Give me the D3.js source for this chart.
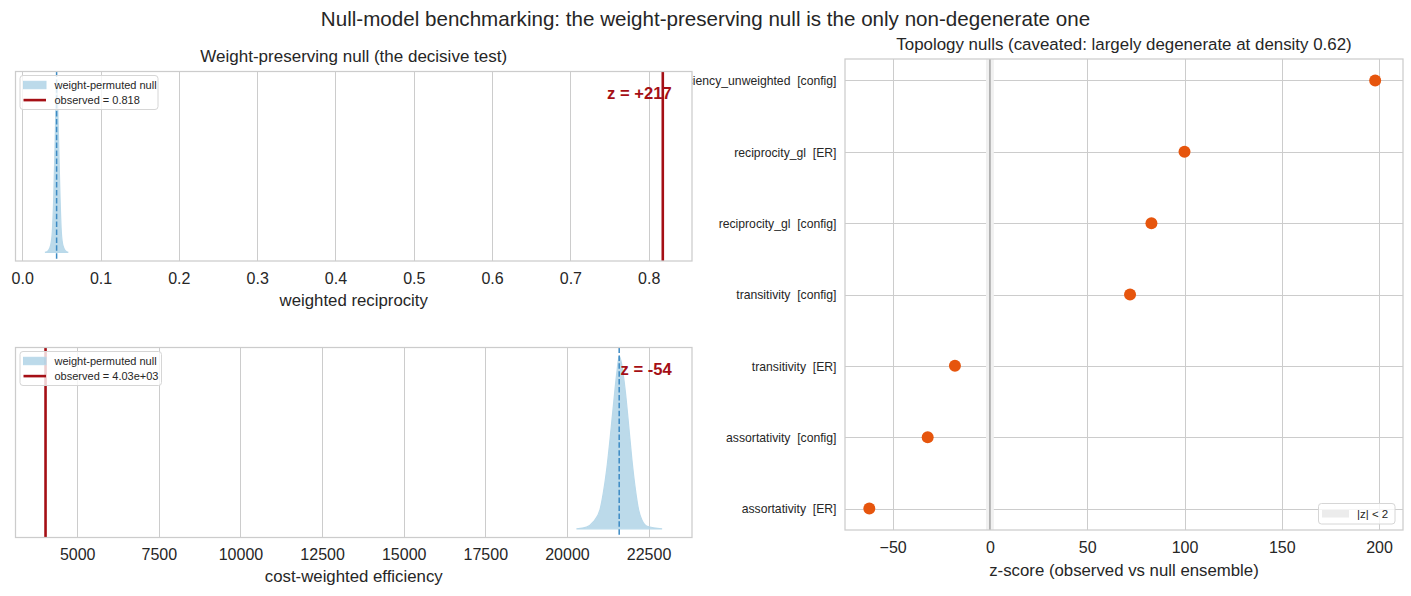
<!DOCTYPE html>
<html>
<head>
<meta charset="utf-8">
<script src="https://cdn.jsdelivr.net/npm/d3@7"></script>
<style>
  body { margin: 0; background: #fff; }
  svg text { font-family: "Liberation Sans", Arial, sans-serif; fill: #262626; white-space: pre; }
</style>
</head>
<body>
<div id="chart"></div>
<script>
// weighted reciprocity: null ensemble KDE (relative density) + observed value
const recipX = [0.0290, 0.0333, 0.0362, 0.0384, 0.0401, 0.0418, 0.0430, 0.0439, 0.0452, 0.0464, 0.0482, 0.0499, 0.0520, 0.0550, 0.0588];
const recipDensity = [0, 0.01, 0.04, 0.12, 0.30, 0.60, 0.85, 1.0, 0.88, 0.65, 0.33, 0.12, 0.04, 0.01, 0];
const recipNullMean = 0.0439;
const recipObserved = 0.818;
const recipZ = "z = +217";
const recipTicks = [0.0, 0.1, 0.2, 0.3, 0.4, 0.5, 0.6, 0.7, 0.8];

// cost-weighted efficiency
const effX = [20290, 20600, 20805, 21010, 21115, 21215, 21320, 21420, 21525, 21600, 21680, 21785, 21885, 21990, 22095, 22195, 22300, 22455, 22915];
const effDensity = [0, 0.01, 0.04, 0.11, 0.21, 0.34, 0.52, 0.71, 0.90, 1.0, 0.95, 0.80, 0.61, 0.40, 0.23, 0.11, 0.05, 0.015, 0];
const effNullMean = 21600;
const effObserved = 4030;
const effZ = "z = -54";
const effTicks = [5000, 7500, 10000, 12500, 15000, 17500, 20000, 22500];

// topology nulls
const topoLabels = [
  "efficiency_unweighted  [config]",
  "reciprocity_gl  [ER]",
  "reciprocity_gl  [config]",
  "transitivity  [config]",
  "transitivity  [ER]",
  "assortativity  [config]",
  "assortativity  [ER]"
];
const topoZScores = [198, 100, 83, 72, -18, -32, -62];
const topoTicks = [-50, 0, 50, 100, 150, 200];

const W = 1411, H = 596;
const grid = "#cccccc", red = "#a50f15", blue = "#3d8bc4", kdeFill = "#a6cee3", orange = "#e6550d";

const svg = d3.select("#chart").append("svg")
  .attr("width", W).attr("height", H);

svg.append("text")
  .attr("x", W / 2).attr("y", 19).attr("dy", "0.35em")
  .attr("text-anchor", "middle").style("font-size", "20.6px")
  .text("Null-model benchmarking: the weight-preserving null is the only non-degenerate one");

// ---------- right panel (drawn first so the left panels cover its overflowing label) ----------
const R = { left: 845, right: 1403, top: 59, bottom: 530 };
const xR = d3.scaleLinear().domain([-74.5, 212.3]).range([R.left, R.right]);
const yR = d3.scalePoint().domain(topoLabels).range([R.top, R.bottom]).padding(0.3);
const gR = svg.append("g");

gR.selectAll(".vgrid").data(topoTicks).join("line")
  .attr("x1", d => Math.round(xR(d)) + 0.5).attr("x2", d => Math.round(xR(d)) + 0.5)
  .attr("y1", R.top).attr("y2", R.bottom)
  .attr("stroke", grid).attr("stroke-width", 1);
gR.selectAll(".hgrid").data(topoLabels).join("line")
  .attr("x1", R.left).attr("x2", R.right)
  .attr("y1", d => Math.round(yR(d)) + 0.5).attr("y2", d => Math.round(yR(d)) + 0.5)
  .attr("stroke", grid).attr("stroke-width", 1);

// |z| < 2 band and zero line
gR.append("rect")
  .attr("x", xR(-2)).attr("width", xR(2) - xR(-2))
  .attr("y", R.top).attr("height", R.bottom - R.top)
  .attr("fill", "#f0f0f0");
gR.append("line")
  .attr("x1", xR(0)).attr("x2", xR(0)).attr("y1", R.top).attr("y2", R.bottom)
  .attr("stroke", "#8f8f8f").attr("stroke-width", 1.2);

gR.selectAll("circle").data(topoLabels).join("circle")
  .attr("cx", (d, i) => xR(topoZScores[i]))
  .attr("cy", d => yR(d))
  .attr("r", 6)
  .attr("fill", orange);

gR.append("rect")
  .attr("x", R.left).attr("y", R.top)
  .attr("width", R.right - R.left).attr("height", R.bottom - R.top)
  .attr("fill", "none").attr("stroke", grid).attr("stroke-width", 1.25);

const axR = gR.append("g").attr("transform", `translate(0,${R.bottom})`)
  .call(d3.axisBottom(xR).tickValues(topoTicks).tickSize(0).tickFormat(d3.format("d")));
axR.select(".domain").remove();
axR.selectAll("text").attr("y", 17.5).attr("dy", "0.35em").style("font-size", "16px").attr("fill", "#262626");

const ayR = gR.append("g").attr("transform", `translate(${R.left},0)`)
  .call(d3.axisLeft(yR).tickSize(0));
ayR.select(".domain").remove();
ayR.selectAll("text").attr("x", -8.5).attr("dy", "0.35em").style("font-size", "12.2px").attr("fill", "#262626");

gR.append("text")
  .attr("x", (R.left + R.right) / 2).attr("y", 44).attr("dy", "0.35em")
  .attr("text-anchor", "middle").style("font-size", "16.9px")
  .text("Topology nulls (caveated: largely degenerate at density 0.62)");
gR.append("text")
  .attr("x", (R.left + R.right) / 2).attr("y", 570).attr("dy", "0.35em")
  .attr("text-anchor", "middle").style("font-size", "16.8px")
  .text("z-score (observed vs null ensemble)");

// legend
const lgR = gR.append("g");
lgR.append("rect").attr("x", 1318.5).attr("y", 503.5).attr("width", 76.5).attr("height", 20.5)
  .attr("rx", 3).attr("fill", "#fff").attr("fill-opacity", 0.8).attr("stroke", "#d6d6d6");
lgR.append("rect").attr("x", 1322).attr("y", 510).attr("width", 27).attr("height", 7.5).attr("fill", "#ececec");
lgR.append("text").attr("x", 1357).attr("y", 513.5).attr("dy", "0.35em").style("font-size", "11.5px").text("|z| < 2");

// ---------- left panels ----------
function kdePanel(cfg) {
  const P = cfg.box;
  const x = d3.scaleLinear().domain(cfg.domain).range([P.left, P.right]);
  const y = d3.scaleLinear().domain([-0.05, 1.05]).range([P.bottom, P.top]);
  const g = svg.append("g");

  g.append("rect").attr("x", P.left).attr("y", P.top)
    .attr("width", P.right - P.left).attr("height", P.bottom - P.top).attr("fill", "#fff");

  g.selectAll(".vgrid").data(cfg.ticks).join("line")
    .attr("x1", d => Math.round(x(d)) + 0.5).attr("x2", d => Math.round(x(d)) + 0.5)
    .attr("y1", P.top).attr("y2", P.bottom)
    .attr("stroke", grid).attr("stroke-width", 1);

  const pts = cfg.xs.map((v, i) => [v, cfg.dens[i]]);
  g.append("path").datum(pts)
    .attr("d", d3.area().x(d => x(d[0])).y0(y(0)).y1(d => y(d[1])).curve(d3.curveMonotoneX))
    .attr("fill", kdeFill).attr("fill-opacity", 0.75)
    .attr("stroke", "#b9d9ea").attr("stroke-width", 1.2);

  g.append("line")
    .attr("x1", x(cfg.mean)).attr("x2", x(cfg.mean)).attr("y1", P.top).attr("y2", P.bottom)
    .attr("stroke", blue).attr("stroke-width", 1.5).attr("stroke-dasharray", "5.5,2.4");

  g.append("line")
    .attr("x1", x(cfg.observed)).attr("x2", x(cfg.observed)).attr("y1", P.top).attr("y2", P.bottom)
    .attr("stroke", red).attr("stroke-width", 2.6);

  g.append("rect").attr("x", P.left).attr("y", P.top)
    .attr("width", P.right - P.left).attr("height", P.bottom - P.top)
    .attr("fill", "none").attr("stroke", grid).attr("stroke-width", 1.25);

  const ax = g.append("g").attr("transform", `translate(0,${P.bottom})`)
    .call(d3.axisBottom(x).tickValues(cfg.ticks).tickSize(0).tickFormat(cfg.fmt));
  ax.select(".domain").remove();
  ax.selectAll("text").attr("y", 17.3).attr("dy", "0.35em").style("font-size", "16px").attr("fill", "#262626");

  g.append("text")
    .attr("x", (P.left + P.right) / 2).attr("y", P.bottom + 39).attr("dy", "0.35em")
    .attr("text-anchor", "middle").style("font-size", "16.8px").text(cfg.xlabel);

  if (cfg.title) {
    g.append("text")
      .attr("x", (P.left + P.right) / 2).attr("y", P.top - 15.5).attr("dy", "0.35em")
      .attr("text-anchor", "middle").style("font-size", "17px").text(cfg.title);
  }

  // legend
  const lx = P.left + 4.5, ly = P.top + 4;
  const lg = g.append("g");
  lg.append("rect").attr("x", lx).attr("y", ly).attr("width", cfg.legendW).attr("height", 34)
    .attr("rx", 3).attr("fill", "#fff").attr("fill-opacity", 0.8).attr("stroke", "#d6d6d6");
  lg.append("rect").attr("x", lx + 3.5).attr("y", ly + 5.8).attr("width", 22.5).attr("height", 7.4)
    .attr("fill", kdeFill).attr("fill-opacity", 0.75).attr("stroke", "#b9d9ea");
  lg.append("line").attr("x1", lx + 3.5).attr("x2", lx + 26).attr("y1", ly + 24.6).attr("y2", ly + 24.6)
    .attr("stroke", red).attr("stroke-width", 2.6);
  lg.append("text").attr("x", lx + 34.5).attr("y", ly + 9.6).attr("dy", "0.35em")
    .style("font-size", "11px").text("weight-permuted null");
  lg.append("text").attr("x", lx + 34.5).attr("y", ly + 24.8).attr("dy", "0.35em")
    .style("font-size", "11px").text(cfg.obsLabel);

  g.append("text")
    .attr("x", P.left + 0.97 * (P.right - P.left)).attr("y", P.top + 21.8).attr("dy", "0.35em")
    .attr("text-anchor", "end").style("font-size", "16.6px").style("font-weight", "bold")
    .attr("fill", red).style("fill", red).text(cfg.z);
}

kdePanel({
  box: { left: 15.5, right: 692, top: 71.5, bottom: 261 },
  domain: [-0.0086, 0.8553],
  xs: recipX, dens: recipDensity, mean: recipNullMean, observed: recipObserved,
  ticks: recipTicks, fmt: d3.format(".1f"),
  xlabel: "weighted reciprocity",
  title: "Weight-preserving null (the decisive test)",
  obsLabel: "observed = 0.818", legendW: 138, z: recipZ
});

kdePanel({
  box: { left: 15.5, right: 692, top: 347.5, bottom: 537.5 },
  domain: [3110, 23830],
  xs: effX, dens: effDensity, mean: effNullMean, observed: effObserved,
  ticks: effTicks, fmt: d3.format("d"),
  xlabel: "cost-weighted efficiency",
  title: null,
  obsLabel: "observed = 4.03e+03", legendW: 141.5, z: effZ
});
</script>
</body>
</html>
